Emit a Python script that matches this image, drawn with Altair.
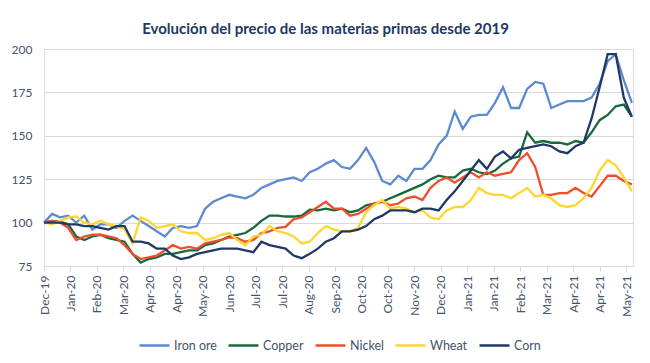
import altair as alt
import pandas as pd

# Weekly sample dates (reference shows daily data)
dates = pd.date_range("2019-12-31", periods=74, freq="7D")

iron_ore = [100, 105, 103, 104, 100, 104, 96, 99, 99, 97,
            101, 104, 101, 98, 95, 92, 97, 98, 97, 98,
            108, 112, 114, 116, 115, 114, 116, 120, 122, 124,
            125, 126, 124, 129, 131, 134, 136, 132, 131, 136,
            143, 135, 124, 122, 127, 124, 131, 131, 136, 145,
            150, 164, 154, 161, 162, 162, 169, 178, 166, 166,
            177, 181, 180, 166, 168, 170, 170, 170, 172, 180,
            193, 197, 182, 169]
copper = [100, 101, 100.5, 99, 92, 90, 92, 93, 91, 90,
          89, 82, 77, 79, 80, 82, 82, 83, 84, 84,
          87, 88, 90, 92, 93, 94, 97, 101, 104, 104,
          103.5, 103.5, 104, 107.5, 107, 108, 107, 108, 106, 107,
          110, 111, 112, 114, 116, 118, 120, 122, 125, 127,
          126, 126, 130, 131, 129, 128, 130, 134, 137, 138,
          152, 146, 147, 146, 146, 145, 147, 146, 152, 159,
          162, 167, 168, 161]
nickel = [100, 101, 100, 97, 90, 92, 93, 93, 92, 91,
          87, 82, 79, 80, 81, 84, 87, 85, 86, 85,
          88, 89, 90, 91.5, 91, 89, 90, 94, 95, 97,
          97.5, 102, 103, 106, 109, 112, 108, 108, 104, 105,
          108, 111, 112, 110, 111, 114, 115, 113, 120, 124,
          126, 123, 126, 129, 126, 129, 127, 128, 129, 136,
          140, 132, 116, 116, 117, 117, 120, 117, 115, 121,
          127, 127, 124, 122]
wheat = [100, 99, 101, 103, 103.5, 100, 99, 101, 99, 98,
         96, 88, 103, 101, 97, 98, 99, 95, 94, 94,
         90, 91, 93, 94, 90, 87, 92, 93, 98, 95,
         94, 92, 88, 89, 94, 98, 96, 95, 95, 97,
         106, 110, 113, 108, 109, 108, 106, 107, 103, 102,
         107, 109, 109, 113, 120, 117, 116, 116, 114, 117,
         120, 115, 116, 114, 110, 109, 110, 114, 120, 130,
         136, 133, 126, 118]
corn = [100, 100, 100, 99, 99, 98, 98, 97, 96, 98,
        98, 89, 89, 88, 85, 85, 81, 79, 80, 82,
        83, 84, 85, 85, 85, 84, 83, 89, 87, 86,
        85, 81, 79.5, 82, 85, 89, 91, 95, 95, 96,
        98, 102, 104, 107, 107, 107, 106, 108, 108, 107,
        113, 118, 124, 130, 136, 131, 138, 141, 137, 142,
        143, 144, 145, 144, 141, 140, 144, 146, 160, 178,
        197, 197, 172, 161]

series_names = ["Iron ore", "Copper", "Nickel", "Wheat", "Corn"]
series_values = [iron_ore, copper, nickel, wheat, corn]
series_colors = ["#5B8AD3", "#17693A", "#F04E2A", "#FFD530", "#203864"]

tick_dates = ["2019-12-31", "2020-01-23", "2020-02-15", "2020-03-09", "2020-04-01",
              "2020-04-24", "2020-05-17", "2020-06-09", "2020-07-02", "2020-07-25",
              "2020-08-17", "2020-09-09", "2020-10-02", "2020-10-25", "2020-11-17",
              "2020-12-10", "2021-01-02", "2021-01-25", "2021-02-17", "2021-03-12",
              "2021-04-04", "2021-04-27", "2021-05-20"]
y_ticks = [75, 100, 125, 150, 175, 200]

rows = []
for name, vals in zip(series_names, series_values):
    for d, v in zip(dates, vals):
        rows.append({"date": d.strftime("%Y-%m-%d"), "value": v, "series": name})
df = pd.DataFrame(rows)


def dt(s):
    y, m, d = (int(p) for p in s.split("-"))
    return alt.DateTime(year=y, month=m, date=d, utc=True)


FONT = "Lato"
TXT = "#44546A"

chart = alt.Chart(df).mark_line(strokeWidth=2.3).encode(
    x=alt.X("date:T",
            scale=alt.Scale(type="utc", domain=[dt("2019-12-31"), dt("2021-05-26")]),
            axis=alt.Axis(values=[dt(s) for s in tick_dates], format="%b-%y",
                          labelAngle=270, labelAlign="right", labelBaseline="middle",
                          tickSize=5, tickColor="#D9D9D9", domainColor="#D9D9D9",
                          grid=False, labelPadding=4, labelColor=TXT, labelFontSize=12,
                          labelFont=FONT, labelOverlap=False, labelFlush=False, title=None)),
    y=alt.Y("value:Q",
            scale=alt.Scale(domain=[75, 200], nice=False, zero=False),
            axis=alt.Axis(values=y_ticks, grid=True, gridColor="#D9D9D9", domain=False,
                          ticks=False, labelPadding=12, labelColor=TXT, labelFontSize=12,
                          labelFont=FONT, title=None)),
    color=alt.Color("series:N",
                    scale=alt.Scale(domain=series_names, range=series_colors),
                    legend=alt.Legend(orient="none", legendX=94, legendY=280,
                                      direction="horizontal", title=None,
                                      symbolType="stroke", symbolSize=900,
                                      symbolStrokeWidth=2.5, labelFontSize=12.5,
                                      labelFont=FONT, labelColor=TXT, labelOffset=3,
                                      columnPadding=6, padding=0)),
    order=alt.Order("date:T"),
).properties(
    width=589,
    height=217,
    autosize="none",
    padding={"left": 36, "top": 41, "right": 9, "bottom": 89},
    title=alt.TitleParams("Evolución del precio de las materias primas desde 2019",
                          font=FONT, fontSize=15, fontWeight="bold", color="#1F3864",
                          anchor="middle", dx=-13, offset=6),
).configure_view(stroke=None).configure(background="white")

chart.save("out.html", embed_options={"renderer": "svg", "actions": False})
